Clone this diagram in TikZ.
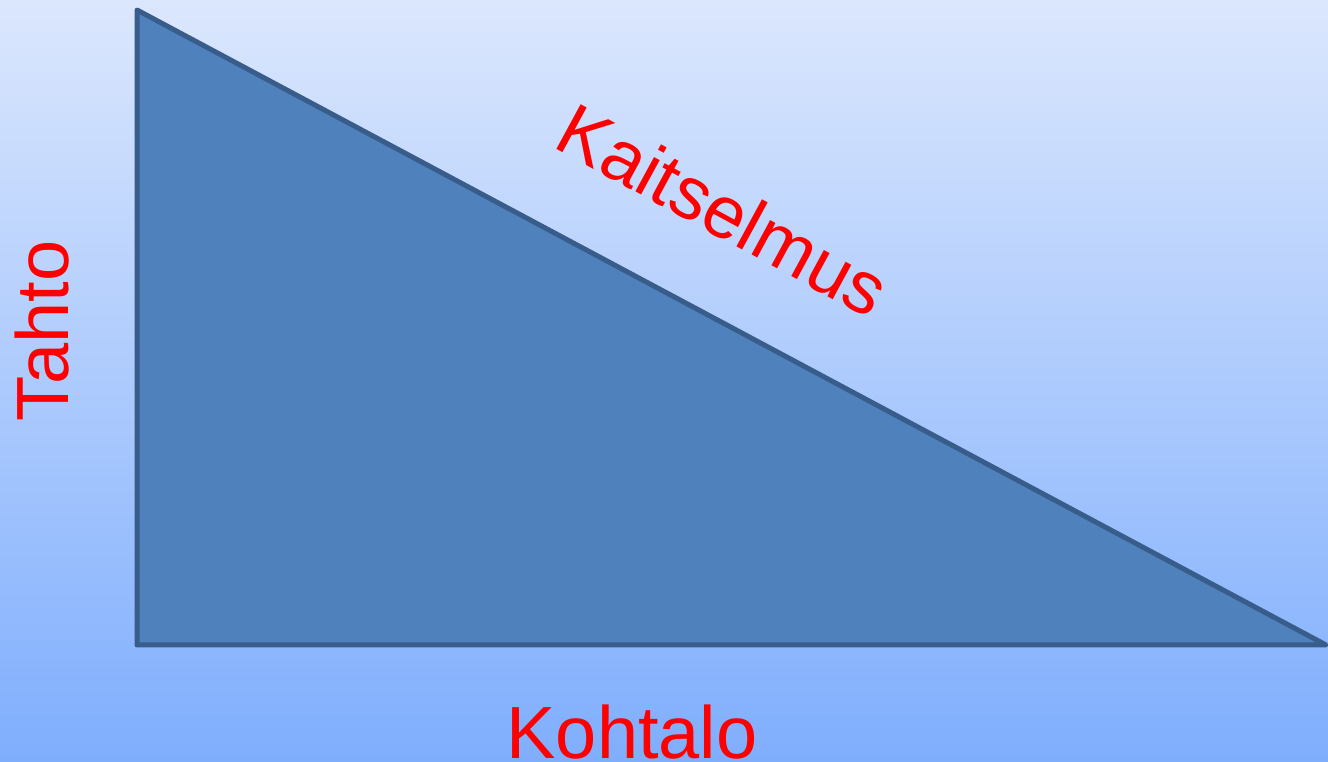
\documentclass[tikz,border=0pt]{standalone}
\usepackage{fontspec}
\setmainfont{Liberation Sans}
\definecolor{bgtop}{RGB}{219,231,253}
\definecolor{bgbot}{RGB}{127,174,253}
\definecolor{trifill}{RGB}{79,129,189}
\definecolor{triline}{RGB}{56,93,138}
\definecolor{lbl}{RGB}{255,0,0}
\tikzset{
  lab/.style={text=lbl, font=\fontsize{74}{80}\selectfont, inner sep=0pt, anchor=base},
  tri/.style={fill=trifill, draw=triline, line width=5pt, line join=round}
}
\begin{document}
\begin{tikzpicture}[x=1pt,y=1pt]
\useasboundingbox (0,0) rectangle (1328,762);
\shade[top color=bgtop, bottom color=bgbot] (0,0) rectangle (1328,762);
\coordinate (A) at (137,752);
\coordinate (B) at (137,117);
\coordinate (C) at (1326,117);
\draw[tri] (A) -- (B) -- (C) -- cycle;
\node[lab] (kohtalo) at (632,3) {Kohtalo};
\node[lab, rotate=90] (tahto) at (68,431) {Tahto};
\node[lab, rotate=-28.5] (kaitselmus) at (711,529) {Kaitselmus};
\end{tikzpicture}
\end{document}
